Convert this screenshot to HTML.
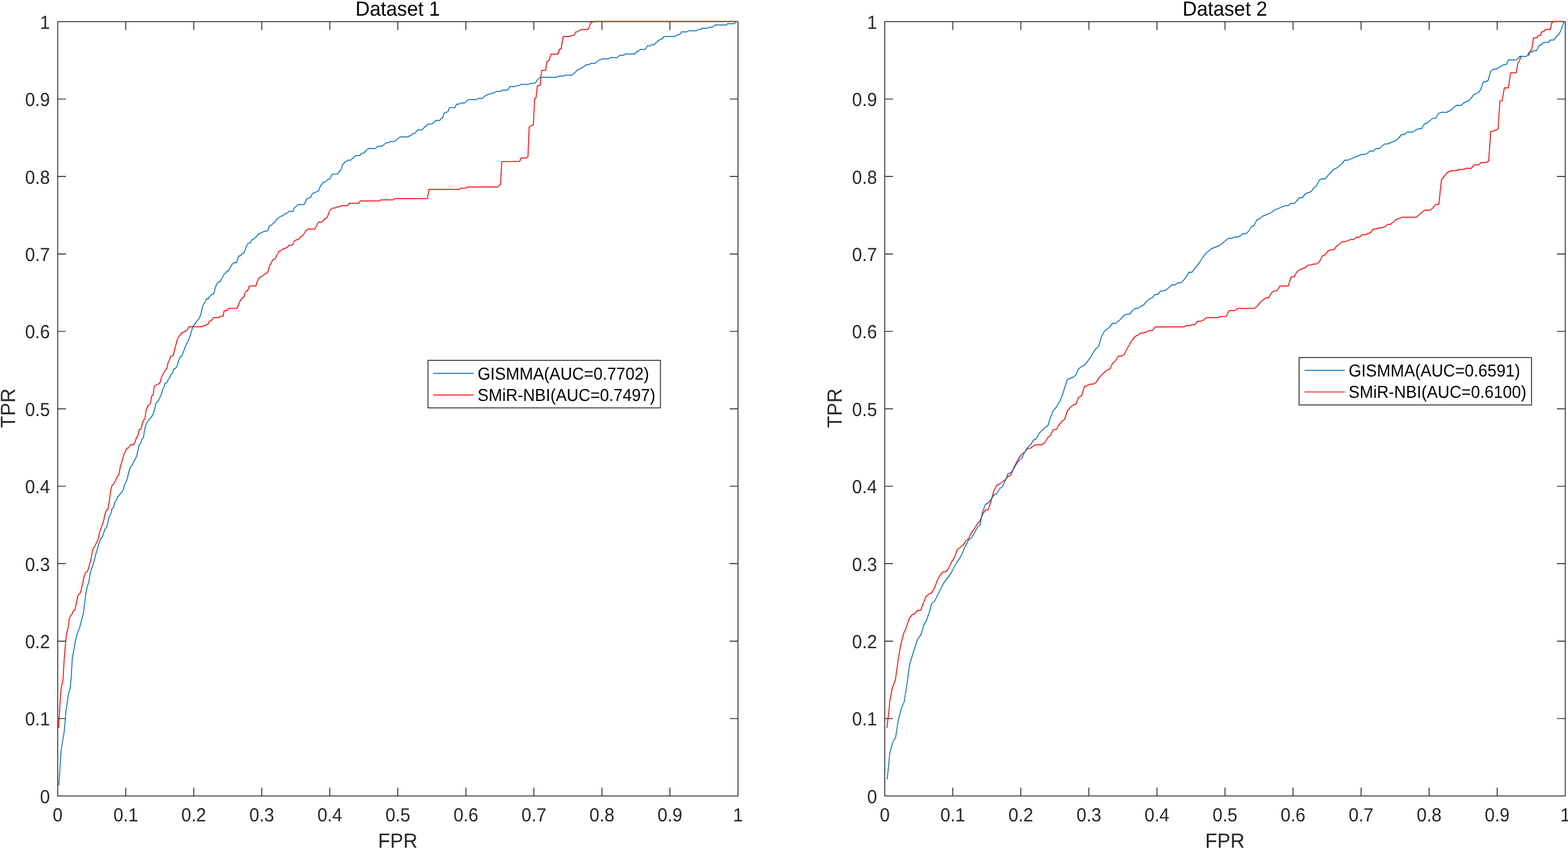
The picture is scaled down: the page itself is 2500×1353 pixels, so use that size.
<!DOCTYPE html>
<html lang="en">
<head>
<meta charset="utf-8">
<title>ROC curves: Dataset 1 and Dataset 2</title>
<style>
html,body{margin:0;padding:0;background:#fff;}
body{width:2500px;height:1353px;overflow:hidden;}
svg{display:block;}
text{font-family:"Liberation Sans",sans-serif;text-rendering:geometricPrecision;}
.tk{font-size:28.6px;fill:#262626;}
.lb{font-size:31.5px;fill:#262626;}
.tt{font-size:31.5px;fill:#000;}
.lg{font-size:26.1px;fill:#000;}
</style>
</head>
<body>
<svg width="2500" height="1353" viewBox="0 0 2500 1353">
<rect x="0" y="0" width="2500" height="1353" fill="#fff"/>
<g>
<rect x="92" y="34.5" width="1084.6" height="1234" fill="none" stroke="#262626" stroke-width="1.4"/>
<path d="M200.5 1268.5v-13.2M200.5 34.5v13.2M92 1145.1h13.2M1176.6 1145.1h-13.2M308.9 1268.5v-13.2M308.9 34.5v13.2M92 1021.7h13.2M1176.6 1021.7h-13.2M417.4 1268.5v-13.2M417.4 34.5v13.2M92 898.3h13.2M1176.6 898.3h-13.2M525.8 1268.5v-13.2M525.8 34.5v13.2M92 774.9h13.2M1176.6 774.9h-13.2M634.3 1268.5v-13.2M634.3 34.5v13.2M92 651.5h13.2M1176.6 651.5h-13.2M742.8 1268.5v-13.2M742.8 34.5v13.2M92 528.1h13.2M1176.6 528.1h-13.2M851.2 1268.5v-13.2M851.2 34.5v13.2M92 404.7h13.2M1176.6 404.7h-13.2M959.7 1268.5v-13.2M959.7 34.5v13.2M92 281.3h13.2M1176.6 281.3h-13.2M1068.1 1268.5v-13.2M1068.1 34.5v13.2M92 157.9h13.2M1176.6 157.9h-13.2" fill="none" stroke="#262626" stroke-width="1.4"/>
<polyline points="93.5,1160 94.9,1135 96,1115 97.8,1095 100.3,1085 102.4,1050 105,1020 106.5,1008 108.7,1000 110.5,986 112.5,981 115,978.5 117.2,972.8 119.5,972.5 124,950 126,946.5 128.3,944.5 130,938 134.5,917 137,911.5 139.2,911 141.2,905.5 145.5,889.5 147.8,876 152,869 153.8,865 156.5,859 159,847.5 165,831 167.5,819 169.8,812.8 172,812.2 174.5,797 176.5,781.5 178.5,774 181,771.5 184.5,765 187.2,759 189.5,756.8 191.8,744 194,737 195.8,730 198,723 200,719 202.2,714.2 204.8,714 206.8,710.5 209,708.5 213,708.8 215.2,705 217.5,697.5 220,694 222,684.5 224.5,684.2 228.5,670 231,667.5 233,654 235,648.5 237.5,645 239.7,643.5 241.8,630.8 244,630 246,616 250,612.5 252.2,612.2 254.8,610.5 258,600 260.5,595 263,590.5 265.8,587.5 268,578 270.5,573 272.2,567.5 274.5,567.2 276.5,565.5 279.5,553 283,540 285.2,536 287.5,534 289.8,530.5 292,530 296.2,526.8 298.5,526.2 301,520.7 322.5,520.7 324.8,519 327,518.8 329.5,517.2 331.5,517 333.8,511.8 336.2,511.5 338,509.8 340,506.3 348.5,506.2 351,504.3 355.5,504 357.5,495 361.5,495 364,491.5 377.5,491.3 379.5,488 382,481 385.8,475 388.5,474.2 390.5,467.5 392.8,463.5 395,463 396,460 397.5,455.8 408,455.8 410,449 412.5,444 414.5,441.2 416.8,441 423.5,435.5 425.5,435.2 427.5,432.5 430,422.8 432,420.5 434.5,414.5 436.5,413 438.8,412.8 441,407.5 445,400 447.5,399.8 451.5,396.5 454,396.2 456.5,394.5 458.5,394.2 460.5,390.8 465,390.8 467.2,389 469.2,384 471.2,383.2 473.5,381.8 476,381.5 478,379.5 480,376.3 482.5,376 487,368.5 491.2,365 502,365 504.2,361 506.5,355.5 508.5,354 513,354 515.2,352 517.8,348.5 519.5,348.2 521.8,346 526,335 530.5,331.5 534.5,331.5 537,329.8 541,329.5 544,327.8 554,327.8 556.8,324 572,324 574.5,320.2 605,320.2 607.2,318.5 627,318.5 629.2,316.5 681.5,316.5 684,301.8 732,301.8 734.5,300 743,299.8 745.2,298 793.5,298 798,294.2 800,257.5 828.5,257.2 830.7,251.8 839.5,251.7 841.8,249.8 843.7,201.8 846,201.3 848,199.5 850.3,199.2 852.5,157 854.5,156.5 856.8,136.8 861.2,136.3 863.5,112.2 870,112 872,97.8 874,97.5 876.2,94 878.5,86.2 889.5,86.2 891.8,80 889.5,86 891.8,78.5 894.5,78 898,58.2 909,58.2 911.5,56.5 915.5,56.3 917.8,51 920,50.7 922.5,49 924.5,48.8 926.8,47 937.8,47 942,36 944,35.5 946.5,34.3 1173,34.3" fill="none" stroke="#FF0000" stroke-width="1.45" stroke-linejoin="round" stroke-linecap="butt"/>
<polyline points="93.8,1251.5 97.5,1195 102.5,1165 105,1135 109,1107 111.8,1097 113.5,1080 115.2,1050 120,1023 123,1010 127,1000 133,977 137,945 139,935 141.8,927 143.5,915 146.5,905 150,895 152.5,884 156.5,871 158.2,865 160,859.5 163.2,855.5 167.5,843 170,840.5 174,824 176.5,819 178.7,810.5 181,809 183,800 185.2,798 187.2,792.5 190,789.5 192,786.5 194.5,784 196.2,781 198.5,773 201.5,767 203.5,760 206.5,748 208.5,743.5 211.5,740 214,734 216.5,730 218,726.5 222,709 224.2,706.5 226.5,699.5 228.7,697 231,683 233,676 236.5,670 240,666.5 244,660.5 246,654 248.5,643 250.5,640.5 253,638 257,629 259.5,620.5 261.5,616.5 263.5,610.5 266.2,610 268,605 270.2,602.5 272.5,597 274.8,595 276.8,588 279,587.5 281.2,585.5 283,581 285.2,573.5 287.8,567.8 290,567.5 293,559 296.5,550 301,541 303.5,534 305.5,527 307.5,520 310,517.5 314,511.5 316,509.5 318.5,505.5 320.5,500 322.5,489.5 324.5,485.5 327,481 329.2,476 331.5,476.5 333.8,473 338,469 340.5,468.5 342,464 342.8,460 345,454 349,448.5 351.2,448.5 357,437.5 359.5,435.5 362,431.8 364.2,431.8 370.5,420.5 373,418.5 377,418.8 381,407.8 383.5,407.5 386.2,404 388.5,403.8 392,395 395,388.5 397,387.2 399.2,387 401.2,382 403.5,381.7 409.5,376.5 412,372.5 414.5,372.2 417,370.5 418.5,370.3 421,368.5 425,368.5 427.5,366.5 429.7,359.7 432,359.3 438,354 441,349.5 447.5,344.5 450,344.2 454,340.8 456.2,340.5 460.5,337 467,337 469,331.5 475.5,326 484.5,326 486.5,323 489,316.8 491,316.5 493.5,314.7 495.5,314.5 497.8,309 500,307.2 502,307 504.5,305.5 506.8,305.2 508.5,302.5 511,296 513,294 515,290.8 517.5,290.5 524,285.2 526.2,285 528.5,279.5 530.5,277.5 538,277.3 540,275 542,272 544,270 545.8,263 548.5,260 550,257.7 552.2,257.2 554.8,255.3 559,255.2 567.5,247.7 574,247.8 576.5,244.2 580.5,244 583.5,239.5 587.5,236.5 598,236.8 602.5,233 609,233 615.8,227.5 620,227.2 622.5,225.5 629,225.5 638,218.2 650.5,218.2 653,216.3 655.5,216 657.8,212.8 661.8,212.5 664,208.8 666.5,207 672.8,207 675,205 677.5,201.5 679.5,201.2 682,197.7 688,197.5 691.6,195.8 694.5,192 701,192 703.5,188.5 705.8,188 707.8,181 710,179.2 712.5,179 714.5,177.2 716.8,171.5 725.5,171.5 727.8,166 731.8,166 734,164.2 740.5,164.2 747,158.8 760,158.8 762.5,156.8 769,156.8 775.5,151.3 777.5,151.2 780,149.5 784.5,149.3 786.5,147.8 788.8,147.5 791,145.8 797.8,145.8 800,143.8 808.5,143.8 810.5,142 813,138 821.2,138 823.5,136.5 828,136.3 830.5,134.5 843.5,134.5 846,132.7 852.5,132.7 854.5,131 857,126.8 860.5,123.7 863,123.3 887.5,123.3 889.7,121.3 898.5,121.3 900.8,119.7 911.8,119.7 922,110.5 924.5,110.2 930.6,106.2 935.5,102.8 939.8,102.8 942,101 948.8,101 955.2,95.5 957.5,95.2 959.8,93.7 970.5,93.7 973,91.7 984,91.7 988.2,88 994.5,88 997,86 1012.5,86 1014.7,82.5 1017,82 1021.2,78.7 1028,78.7 1030,77 1032.2,73.2 1036.5,73 1039,71.3 1043.2,71.3 1045.5,67.8 1047.5,67.5 1049.8,64 1052,63.7 1054,62 1056.2,62 1058.5,58.2 1075.5,58.2 1078,56.5 1080,56.2 1082.5,54.7 1084.5,54.5 1086.5,50.8 1095.5,50.8 1097.8,49 1110.8,49 1113,47 1117,47 1119,45 1128,45 1130,43.5 1135.5,43.5 1138,41.5 1140,39.7 1158,39.7 1160,37.8 1171,37.8 1173,34.5 1176.2,34.3" fill="none" stroke="#0072BD" stroke-width="1.45" stroke-linejoin="round" stroke-linecap="butt"/>
<text class="tk" transform="translate(92 1309.3) scale(1 1.06)" text-anchor="middle">0</text>
<text class="tk" transform="translate(200.5 1309.3) scale(1 1.06)" text-anchor="middle">0.1</text>
<text class="tk" transform="translate(308.9 1309.3) scale(1 1.06)" text-anchor="middle">0.2</text>
<text class="tk" transform="translate(417.4 1309.3) scale(1 1.06)" text-anchor="middle">0.3</text>
<text class="tk" transform="translate(525.8 1309.3) scale(1 1.06)" text-anchor="middle">0.4</text>
<text class="tk" transform="translate(634.3 1309.3) scale(1 1.06)" text-anchor="middle">0.5</text>
<text class="tk" transform="translate(742.8 1309.3) scale(1 1.06)" text-anchor="middle">0.6</text>
<text class="tk" transform="translate(851.2 1309.3) scale(1 1.06)" text-anchor="middle">0.7</text>
<text class="tk" transform="translate(959.7 1309.3) scale(1 1.06)" text-anchor="middle">0.8</text>
<text class="tk" transform="translate(1068.1 1309.3) scale(1 1.06)" text-anchor="middle">0.9</text>
<text class="tk" transform="translate(1176.6 1309.3) scale(1 1.06)" text-anchor="middle">1</text>
<text class="tk" transform="translate(79.7 1279.8) scale(1 1.06)" text-anchor="end">0</text>
<text class="tk" transform="translate(79.7 1156.4) scale(1 1.06)" text-anchor="end">0.1</text>
<text class="tk" transform="translate(79.7 1033) scale(1 1.06)" text-anchor="end">0.2</text>
<text class="tk" transform="translate(79.7 909.6) scale(1 1.06)" text-anchor="end">0.3</text>
<text class="tk" transform="translate(79.7 786.2) scale(1 1.06)" text-anchor="end">0.4</text>
<text class="tk" transform="translate(79.7 662.8) scale(1 1.06)" text-anchor="end">0.5</text>
<text class="tk" transform="translate(79.7 539.4) scale(1 1.06)" text-anchor="end">0.6</text>
<text class="tk" transform="translate(79.7 416) scale(1 1.06)" text-anchor="end">0.7</text>
<text class="tk" transform="translate(79.7 292.6) scale(1 1.06)" text-anchor="end">0.8</text>
<text class="tk" transform="translate(79.7 169.2) scale(1 1.06)" text-anchor="end">0.9</text>
<text class="tk" transform="translate(79.7 45.8) scale(1 1.06)" text-anchor="end">1</text>
<text class="tt" transform="translate(634.2 24.6) scale(1 1.04)" text-anchor="middle">Dataset 1</text>
<text class="lb" transform="translate(634.3 1350.8) scale(1 1.04)" text-anchor="middle">FPR</text>
<text class="lb" transform="translate(24 650.6) rotate(-90) scale(1 1.04)" text-anchor="middle">TPR</text>
<rect x="682.4" y="574.3" width="370.6" height="75.7" fill="#fff" stroke="#262626" stroke-width="1.4"/>
<path d="M690.8 595H755.2" stroke="#0072BD" stroke-width="1.45" fill="none"/>
<path d="M690.8 629.4H755.2" stroke="#FF0000" stroke-width="1.45" fill="none"/>
<text class="lg" transform="translate(761.5 604.6) scale(1 1.06)">GISMMA(AUC=0.7702)</text>
<text class="lg" transform="translate(761.5 639) scale(1 1.06)">SMiR-NBI(AUC=0.7497)</text>
</g>
<g>
<rect x="1410.6" y="34.5" width="1085" height="1234" fill="none" stroke="#262626" stroke-width="1.4"/>
<path d="M1519.1 1268.5v-13.2M1519.1 34.5v13.2M1410.6 1145.1h13.2M2495.6 1145.1h-13.2M1627.6 1268.5v-13.2M1627.6 34.5v13.2M1410.6 1021.7h13.2M2495.6 1021.7h-13.2M1736.1 1268.5v-13.2M1736.1 34.5v13.2M1410.6 898.3h13.2M2495.6 898.3h-13.2M1844.6 1268.5v-13.2M1844.6 34.5v13.2M1410.6 774.9h13.2M2495.6 774.9h-13.2M1953.1 1268.5v-13.2M1953.1 34.5v13.2M1410.6 651.5h13.2M2495.6 651.5h-13.2M2061.6 1268.5v-13.2M2061.6 34.5v13.2M1410.6 528.1h13.2M2495.6 528.1h-13.2M2170.1 1268.5v-13.2M2170.1 34.5v13.2M1410.6 404.7h13.2M2495.6 404.7h-13.2M2278.6 1268.5v-13.2M2278.6 34.5v13.2M1410.6 281.3h13.2M2495.6 281.3h-13.2M2387.1 1268.5v-13.2M2387.1 34.5v13.2M1410.6 157.9h13.2M2495.6 157.9h-13.2" fill="none" stroke="#262626" stroke-width="1.4"/>
<polyline points="1414.2,1160 1415.8,1145 1417.2,1135 1418.7,1117 1423,1095 1427.5,1084 1432,1052 1436,1028 1441,1009 1445,1000 1449.8,985.5 1454.5,979.5 1458.5,978 1463,972.5 1467.8,972.8 1476.5,950.3 1481.5,946.5 1485.5,944.8 1490,937 1495,923.5 1499,916.5 1503.8,911.3 1508,911.2 1512.5,905.5 1517.5,895 1521.8,888.5 1526.2,876 1535,869 1538.2,865 1540,862 1544,859 1548.5,849.5 1553,843.5 1557.5,836 1562.5,830 1567,819 1571.2,812.5 1575.5,812.5 1580,799 1584.5,782.5 1589,773.5 1593.5,771.5 1603,764.5 1607.5,759 1611.8,756.8 1616.5,745 1621,736.5 1624.5,730 1629.5,723.5 1634,720 1639,714.5 1643,714.3 1648,710.5 1652,708.8 1661,708.8 1666,705 1670.5,697.5 1675,693.5 1679.5,684.5 1684,684.5 1688.5,677 1693,671.5 1697.5,668 1701.8,655 1706.5,649 1711,645.5 1715.5,643.8 1720,632.8 1724.5,630.8 1729,616 1738,612.2 1742.5,612.2 1747,610.2 1752,602.5 1756.5,597.2 1759,595 1765,589.8 1769.5,588 1774,579 1778.5,575 1783,567.5 1787.5,567.5 1792,565.7 1796.5,556.5 1805.5,541.5 1810,536 1814.5,534.2 1819,530.5 1823.5,530.5 1832.5,526.8 1837,526.8 1841.8,521 1887,521 1891.5,519.2 1896,519.2 1900.5,517.5 1905,517.5 1909.5,512 1914,512 1918.5,510.2 1923.5,506.2 1941,506.2 1945.5,504.5 1955,504.3 1959.5,495 1968.5,495 1973,491.5 2000,491.5 2004.5,488 2009,482 2018,474.8 2022.5,474.8 2027,467 2031.5,463.5 2036,463.5 2040.5,455.8 2054,455.8 2058.5,441.3 2063.2,441.3 2067.7,433.5 2072.2,430 2081,426.5 2085.5,422.5 2090,422.5 2094.5,420.7 2099,420.7 2103.7,417 2108.2,407.8 2112.7,406 2117.2,400 2121.8,398.2 2126.3,398.2 2131,392.5 2140,385.3 2144.5,385.3 2153.5,381.7 2158,381.7 2162.5,378 2167,378.2 2171.5,374.2 2176,374.2 2185,370.8 2189.5,365 2194,365 2199,363 2203.5,363 2208,361.2 2212.5,357.5 2217,357.5 2226,350 2235,346.3 2257.8,346.3 2271,335 2280,335 2284.5,331.5 2289,325.8 2294,325.8 2298.2,286.8 2307,275.5 2314,272 2322,272 2326.5,270 2333.5,270 2338,268.3 2346,268.3 2350,262.8 2357.5,262.8 2361.5,259 2369,259 2373.5,257 2376.8,209.2 2381,209 2388.5,205.5 2391.5,160.8 2395,160.5 2398.5,140 2405,140 2408.5,116 2417.5,116 2420,101 2423,95.5 2424.8,90" fill="none" stroke="#FF0000" stroke-width="1.45" stroke-linejoin="round" stroke-linecap="butt"/>
<polyline points="2437.2,88.8 2440,80.8 2442,80 2445,60.2 2450,60.2 2453,56.5 2456,56.5 2458,50.8 2461,50.5 2464,47 2472,47 2473.5,38 2476.2,34.3 2494,34.3" fill="none" stroke="#FF0000" stroke-width="1.45" stroke-linejoin="round" stroke-linecap="butt"/>
<polyline points="1414.5,1241.8 1416.8,1220 1418.7,1200 1423,1184 1428,1175 1432,1149 1435.5,1135 1437,1129 1441.5,1119 1447,1084 1450,1060 1456,1040 1463,1019 1468.5,1011 1471.8,1000 1473,995.5 1477,989 1482,975 1485.5,961.8 1490.5,957.5 1504,930 1512.5,919 1517,912 1522,902 1526.5,894.5 1531,888.5 1535,880 1539.5,869 1542,865 1544,861 1549,857 1553.5,849.5 1558,840.5 1562.5,837 1566.5,816 1571,804 1575.5,801.5 1580,796 1584.5,789 1589,787 1593.5,779 1598.5,775.5 1603,765.5 1607,755 1611.5,753.5 1616,748 1620.5,739.5 1625,733 1629.5,730 1634,720 1638.5,712.5 1643,709 1648,701 1652,699.5 1657,690 1661.5,686.2 1666,680.8 1670.5,679 1675,665 1679,655 1684,649 1688.5,641.5 1693,632 1697.5,618 1701.8,604.8 1706.5,603 1711,601 1715.5,597.5 1716.5,595 1719.5,588 1724.5,584 1729,582.2 1738,570.5 1746.5,556.3 1751.5,552.5 1756,537 1760.5,528 1769,521.5 1773.8,515.3 1778.5,515.5 1787,508.5 1792,502.5 1796.5,500.7 1801,500.7 1805.5,495 1810,491.3 1814.5,491.5 1819,488 1823.5,486 1828.5,480 1832.5,476.5 1837,474.7 1841.5,469.2 1846,469.2 1850.5,463.7 1855,463.5 1859,462 1861.8,460 1868.5,454 1873.2,454.2 1877.8,450.5 1882.2,450.7 1886.8,447 1891.2,441.5 1895.7,433.7 1900.2,434 1913.5,417 1918,409.5 1922.5,403.8 1931.5,396.5 1936,394.5 1945,391 1958.5,379.8 1963,380 1968,377.7 1972.5,378 1977,376.3 1981.5,372.3 1986,372.5 1990.8,368.5 1995.2,361 1999.7,359.3 2004,350 2008.5,348.5 2013.2,344.5 2026.5,339.2 2031.5,335 2049,327.8 2054,327.8 2058.5,324 2063,324.2 2067.5,320.5 2072,314.7 2076.5,315 2081,309 2090,305.5 2094.5,300 2099,296 2103.5,286.8 2108,285 2112.5,285.2 2118,278.8 2121.5,275.8 2126,270 2130.5,268.2 2139.5,261 2144,255.3 2148.5,255.3 2171,246 2175.5,246.2 2180,244.3 2184.5,240.5 2189.5,240.7 2194,236.5 2198.5,237 2207.5,229.5 2212,229.5 2225.5,224 2230,220.2 2234.5,214.3 2239,214.5 2243.5,210.5 2252.5,210.5 2257.5,207 2261.5,205.2 2266.5,205.2 2271,197.5 2275,196.2 2284.5,188.5 2289,188.5 2293.5,180.8 2298,179 2306.5,179 2313.5,175.5 2322,167.8 2329.5,168 2334,164 2341.5,160.5 2345,157.2 2349.5,151 2357,147.7 2361,142.5 2365,130.5 2368.5,130.5 2372.5,128.5 2376.5,114 2380.5,110.3 2384.5,110.5 2398,102.8 2402,102.8 2405,95.5 2417,95.5 2419.5,94 2423,89.7 2433,90 2435.8,88 2437,84.5 2441,82.7 2443.5,82.7 2446,80.5 2450,80.5 2453.2,73.5 2457.5,71 2461,67.5 2469,67.5 2472,63.8 2477.5,63.8 2483,56.5 2484.5,55.8 2487,52 2489.5,46 2492,39 2493.5,35 2495,34.3" fill="none" stroke="#0072BD" stroke-width="1.45" stroke-linejoin="round" stroke-linecap="butt"/>
<text class="tk" transform="translate(1410.6 1309.3) scale(1 1.06)" text-anchor="middle">0</text>
<text class="tk" transform="translate(1519.1 1309.3) scale(1 1.06)" text-anchor="middle">0.1</text>
<text class="tk" transform="translate(1627.6 1309.3) scale(1 1.06)" text-anchor="middle">0.2</text>
<text class="tk" transform="translate(1736.1 1309.3) scale(1 1.06)" text-anchor="middle">0.3</text>
<text class="tk" transform="translate(1844.6 1309.3) scale(1 1.06)" text-anchor="middle">0.4</text>
<text class="tk" transform="translate(1953.1 1309.3) scale(1 1.06)" text-anchor="middle">0.5</text>
<text class="tk" transform="translate(2061.6 1309.3) scale(1 1.06)" text-anchor="middle">0.6</text>
<text class="tk" transform="translate(2170.1 1309.3) scale(1 1.06)" text-anchor="middle">0.7</text>
<text class="tk" transform="translate(2278.6 1309.3) scale(1 1.06)" text-anchor="middle">0.8</text>
<text class="tk" transform="translate(2387.1 1309.3) scale(1 1.06)" text-anchor="middle">0.9</text>
<text class="tk" transform="translate(2495.6 1309.3) scale(1 1.06)" text-anchor="middle">1</text>
<text class="tk" transform="translate(1398.3 1279.8) scale(1 1.06)" text-anchor="end">0</text>
<text class="tk" transform="translate(1398.3 1156.4) scale(1 1.06)" text-anchor="end">0.1</text>
<text class="tk" transform="translate(1398.3 1033) scale(1 1.06)" text-anchor="end">0.2</text>
<text class="tk" transform="translate(1398.3 909.6) scale(1 1.06)" text-anchor="end">0.3</text>
<text class="tk" transform="translate(1398.3 786.2) scale(1 1.06)" text-anchor="end">0.4</text>
<text class="tk" transform="translate(1398.3 662.8) scale(1 1.06)" text-anchor="end">0.5</text>
<text class="tk" transform="translate(1398.3 539.4) scale(1 1.06)" text-anchor="end">0.6</text>
<text class="tk" transform="translate(1398.3 416) scale(1 1.06)" text-anchor="end">0.7</text>
<text class="tk" transform="translate(1398.3 292.6) scale(1 1.06)" text-anchor="end">0.8</text>
<text class="tk" transform="translate(1398.3 169.2) scale(1 1.06)" text-anchor="end">0.9</text>
<text class="tk" transform="translate(1398.3 45.8) scale(1 1.06)" text-anchor="end">1</text>
<text class="tt" transform="translate(1953 24.6) scale(1 1.04)" text-anchor="middle">Dataset 2</text>
<text class="lb" transform="translate(1953.1 1350.8) scale(1 1.04)" text-anchor="middle">FPR</text>
<text class="lb" transform="translate(1342.3 650.6) rotate(-90) scale(1 1.04)" text-anchor="middle">TPR</text>
<rect x="2071.3" y="569.7" width="370.5" height="75.7" fill="#fff" stroke="#262626" stroke-width="1.4"/>
<path d="M2079.8 590.3H2144.2" stroke="#0072BD" stroke-width="1.45" fill="none"/>
<path d="M2079.8 624.6H2144.2" stroke="#FF0000" stroke-width="1.45" fill="none"/>
<text class="lg" transform="translate(2150.3 599.9) scale(1 1.06)">GISMMA(AUC=0.6591)</text>
<text class="lg" transform="translate(2150.3 634.2) scale(1 1.06)">SMiR-NBI(AUC=0.6100)</text>
</g>
</svg>
</body>
</html>
